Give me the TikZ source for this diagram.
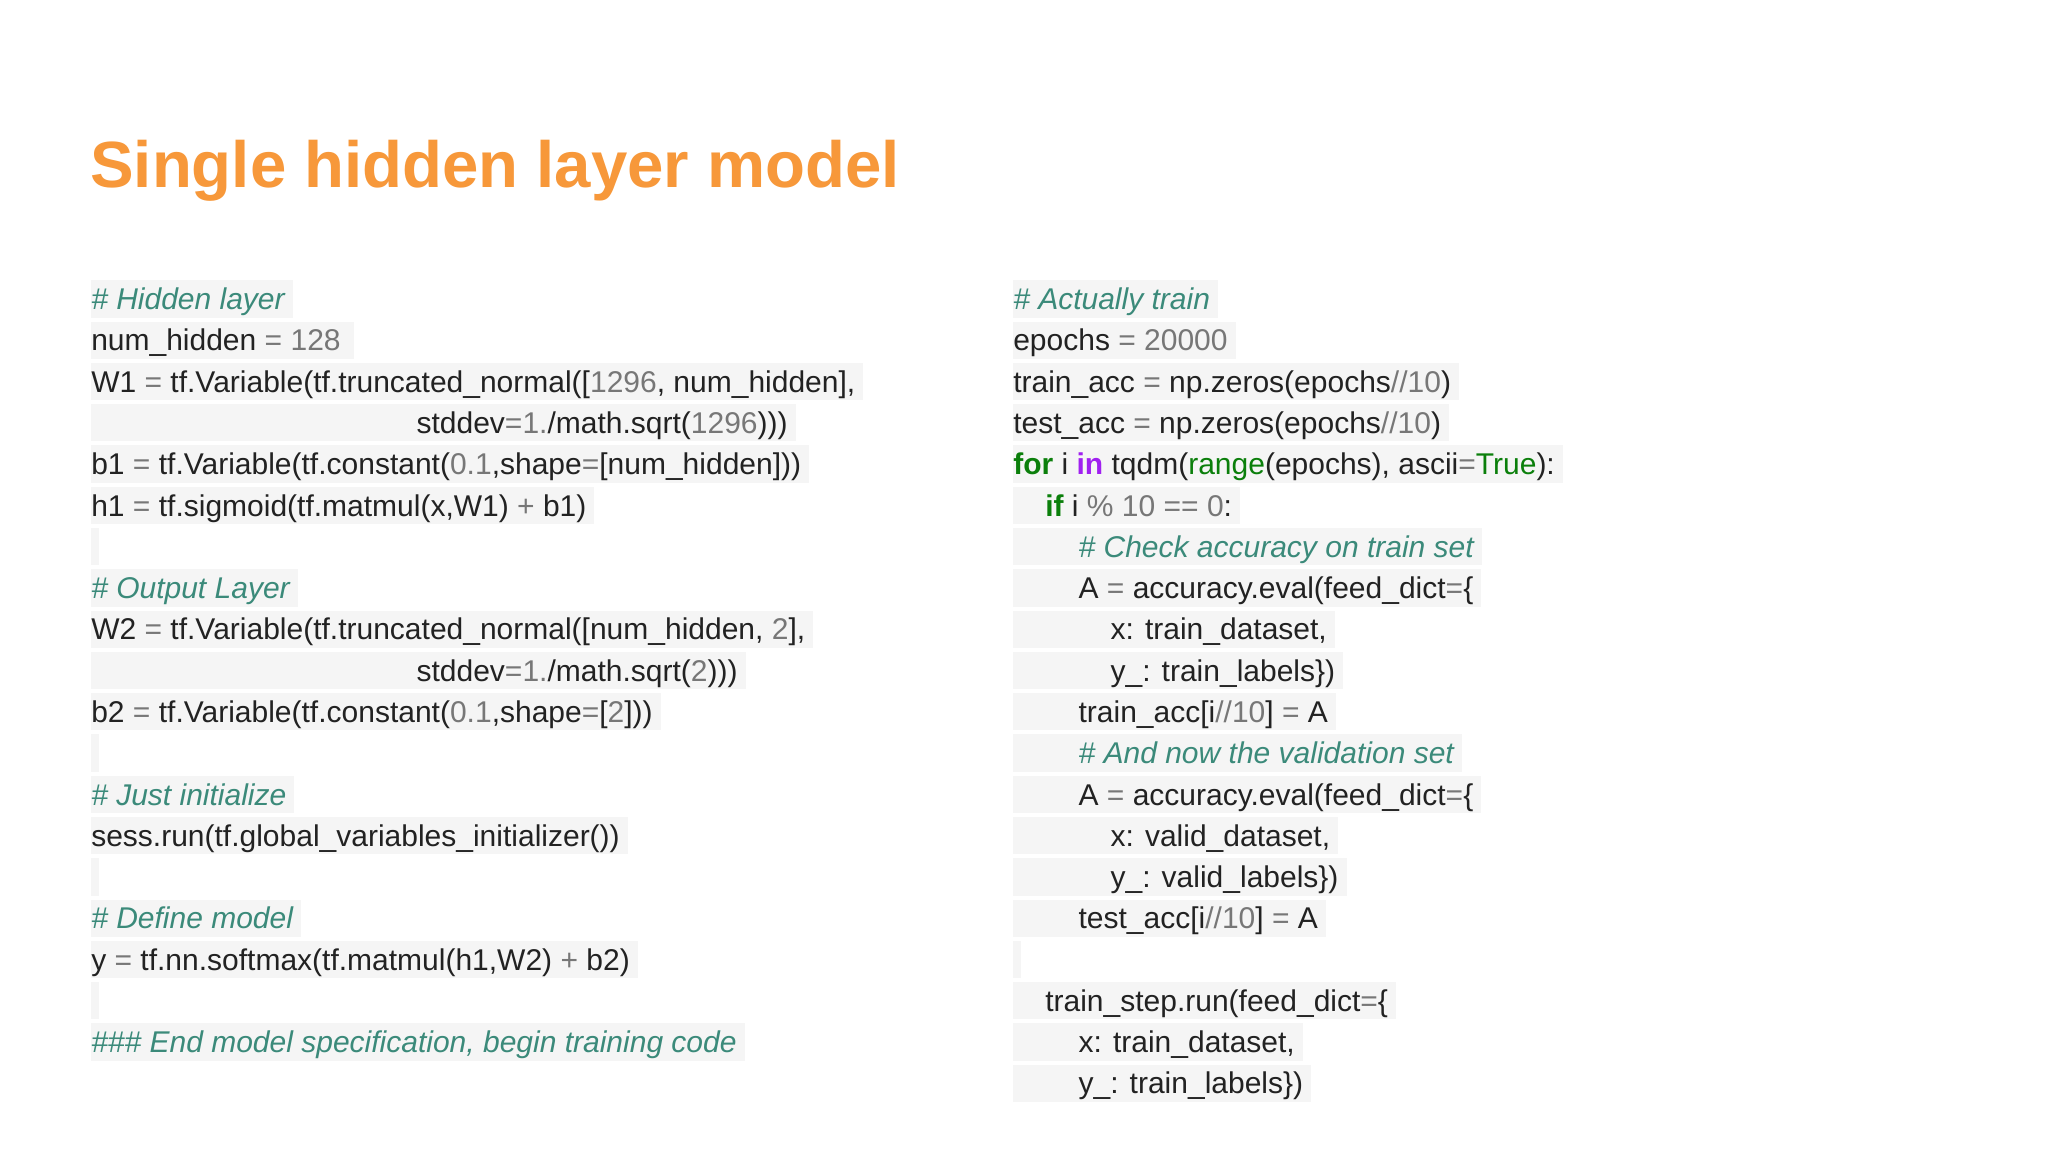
\documentclass[tikz,border=0pt]{standalone}
\usepackage{fontspec}
\setmainfont{Liberation Sans}
\definecolor{ctitle}{HTML}{F7983A}
\definecolor{ccmt}{HTML}{3B8A7A}
\definecolor{cnumc}{HTML}{777777}
\definecolor{ckw}{HTML}{0B7F0B}
\definecolor{cin}{HTML}{A020F0}
\definecolor{ctext}{HTML}{222222}
\definecolor{cbg}{HTML}{F5F5F5}
\newcommand\cmt[1]{\textcolor{ccmt}{\itshape #1}}
\newcommand\cnum[1]{\textcolor{cnumc}{#1}}
\newcommand\kwg[1]{\textcolor{ckw}{\bfseries #1}}
\newcommand\kwp[1]{\textcolor{cin}{\bfseries #1}}
\newcommand\grn[1]{\textcolor{ckw}{#1}}
\newcommand\ind[1]{\hspace*{#1pt}}
\begin{document}
\begin{tikzpicture}[x=0.75pt,y=-0.75pt,
  codeline/.style={anchor=west,fill=cbg,inner xsep=0pt,inner ysep=0pt,
    text height=22pt,text depth=6pt,text=ctext,font=\fontsize{22.5}{28}\selectfont},
  titlestyle/.style={anchor=base west,inner sep=0pt,text=ctitle,font=\fontsize{49}{60}\selectfont\bfseries}]
\fill[white] (0,0) rectangle (2048,1152);
\useasboundingbox (0,0) rectangle (2048,1152);
\node[titlestyle] (title) at (90,187) {Single hidden layer model};
% left column
\def\L{91}
\node[codeline] (l0) at (\L,299.0) {\cmt{\# Hidden layer}\ind{6}};
\node[codeline] (l1) at (\L,340.3) {num\_hidden \cnum{=} \cnum{128}\ind{10}};
\node[codeline] (l2) at (\L,381.6) {W1 \cnum{=} tf.Variable(tf.truncated\_normal([\cnum{1296}, num\_hidden],\ind{6}};
\node[codeline] (l3) at (\L,422.8) {\ind{244}stddev\cnum{=}\cnum{1.}/math.sqrt(\cnum{1296})))\ind{6}};
\node[codeline] (l4) at (\L,464.1) {b1 \cnum{=} tf.Variable(tf.constant(\cnum{0.1},shape\cnum{=}[num\_hidden]))\ind{6}};
\node[codeline] (l5) at (\L,505.4) {h1 \cnum{=} tf.sigmoid(tf.matmul(x,W1) \cnum{+} b1)\ind{6}};
\node[codeline] (l6) at (\L,546.7) {\ind{6}};
\node[codeline] (l7) at (\L,588.0) {\cmt{\# Output Layer}\ind{6}};
\node[codeline] (l8) at (\L,629.2) {W2 \cnum{=} tf.Variable(tf.truncated\_normal([num\_hidden, \cnum{2}],\ind{6}};
\node[codeline] (l9) at (\L,670.5) {\ind{244}stddev\cnum{=}\cnum{1.}/math.sqrt(\cnum{2})))\ind{6}};
\node[codeline] (l10) at (\L,711.8) {b2 \cnum{=} tf.Variable(tf.constant(\cnum{0.1},shape\cnum{=}[\cnum{2}]))\ind{6}};
\node[codeline] (l11) at (\L,753.1) {\ind{6}};
\node[codeline] (l12) at (\L,794.4) {\cmt{\# Just initialize}\ind{6}};
\node[codeline] (l13) at (\L,835.6) {sess.run(tf.global\_variables\_initializer())\ind{6}};
\node[codeline] (l14) at (\L,876.9) {\ind{6}};
\node[codeline] (l15) at (\L,918.2) {\cmt{\# Define model}\ind{6}};
\node[codeline] (l16) at (\L,959.5) {y \cnum{=} tf.nn.softmax(tf.matmul(h1,W2) \cnum{+} b2)\ind{6}};
\node[codeline] (l17) at (\L,1000.8) {\ind{6}};
\node[codeline] (l18) at (\L,1042.0) {\cmt{\#\#\# End model specification, begin training code}\ind{6}};
% right column
\def\R{1013}
\node[codeline] (r0) at (\R,299.0) {\cmt{\# Actually train}\ind{6}};
\node[codeline] (r1) at (\R,340.3) {epochs \cnum{=} \cnum{20000}\ind{6}};
\node[codeline] (r2) at (\R,381.6) {train\_acc \cnum{=} np.zeros(epochs\cnum{//}\cnum{10})\ind{6}};
\node[codeline] (r3) at (\R,422.8) {test\_acc \cnum{=} np.zeros(epochs\cnum{//}\cnum{10})\ind{6}};
\node[codeline] (r4) at (\R,464.1) {\kwg{for} i \kwp{in} tqdm(\grn{range}(epochs), ascii\cnum{=}\grn{True}):\ind{6}};
\node[codeline] (r5) at (\R,505.4) {\ind{24}\kwg{if} i \cnum{\%} \cnum{10} \cnum{==} \cnum{0}:\ind{6}};
\node[codeline] (r6) at (\R,546.7) {\ind{49}\cmt{\# Check accuracy on train set}\ind{6}};
\node[codeline] (r7) at (\R,588.0) {\ind{49}A \cnum{=} accuracy.eval(feed\_dict\cnum{=}\{\ind{6}};
\node[codeline] (r8) at (\R,629.2) {\ind{73}x: train\_dataset,\ind{6}};
\node[codeline] (r9) at (\R,670.5) {\ind{73}y\_: train\_labels\})\ind{6}};
\node[codeline] (r10) at (\R,711.8) {\ind{49}train\_acc[i\cnum{//}\cnum{10}] \cnum{=} A\ind{6}};
\node[codeline] (r11) at (\R,753.1) {\ind{49}\cmt{\# And now the validation set}\ind{6}};
\node[codeline] (r12) at (\R,794.4) {\ind{49}A \cnum{=} accuracy.eval(feed\_dict\cnum{=}\{\ind{6}};
\node[codeline] (r13) at (\R,835.6) {\ind{73}x: valid\_dataset,\ind{6}};
\node[codeline] (r14) at (\R,876.9) {\ind{73}y\_: valid\_labels\})\ind{6}};
\node[codeline] (r15) at (\R,918.2) {\ind{49}test\_acc[i\cnum{//}\cnum{10}] \cnum{=} A\ind{6}};
\node[codeline] (r16) at (\R,959.5) {\ind{6}};
\node[codeline] (r17) at (\R,1000.8) {\ind{24}train\_step.run(feed\_dict\cnum{=}\{\ind{6}};
\node[codeline] (r18) at (\R,1042.0) {\ind{49}x: train\_dataset,\ind{6}};
\node[codeline] (r19) at (\R,1083.3) {\ind{49}y\_: train\_labels\})\ind{6}};
\end{tikzpicture}
\end{document}
